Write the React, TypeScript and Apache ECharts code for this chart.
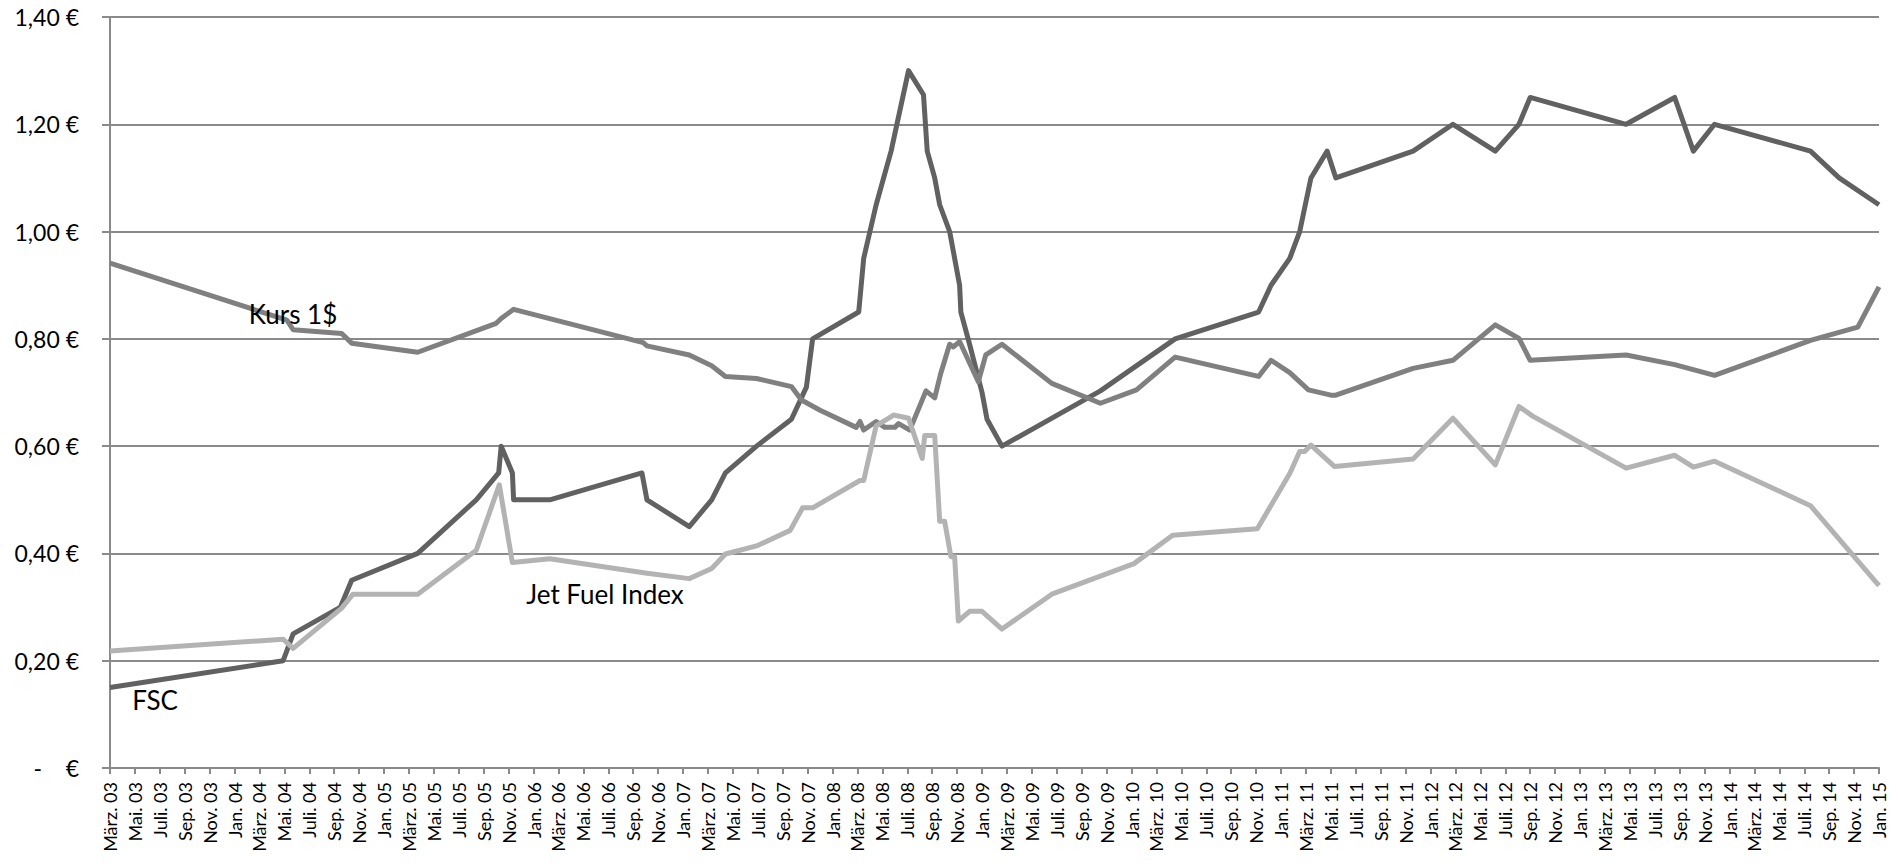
import React, { useEffect, useRef } from "react";
import * as echarts from "echarts";

// x = months after "März 03" (0) up to "Jan. 15" (142)
const tickLabels: string[] = [
  "März. 03", "Mai. 03", "Juli. 03", "Sep. 03", "Nov. 03",
  "Jan. 04", "März. 04", "Mai. 04", "Juli. 04", "Sep. 04", "Nov. 04",
  "Jan. 05", "März. 05", "Mai. 05", "Juli. 05", "Sep. 05", "Nov. 05",
  "Jan. 06", "März. 06", "Mai. 06", "Juli. 06", "Sep. 06", "Nov. 06",
  "Jan. 07", "März. 07", "Mai. 07", "Juli. 07", "Sep. 07", "Nov. 07",
  "Jan. 08", "März. 08", "Mai. 08", "Juli. 08", "Sep. 08", "Nov. 08",
  "Jan. 09", "März. 09", "Mai. 09", "Juli. 09", "Sep. 09", "Nov. 09",
  "Jan. 10", "März. 10", "Mai. 10", "Juli. 10", "Sep. 10", "Nov. 10",
  "Jan. 11", "März. 11", "Mai. 11", "Juli. 11", "Sep. 11", "Nov. 11",
  "Jan. 12", "März. 12", "Mai. 12", "Juli. 12", "Sep. 12", "Nov. 12",
  "Jan. 13", "März. 13", "Mai. 13", "Juli. 13", "Sep. 13", "Nov. 13",
  "Jan. 14", "März. 14", "Mai. 14", "Juli. 14", "Sep. 14", "Nov. 14",
  "Jan. 15",
];

const fsc: [number, number][] = [
  [0, 0.15], [13.9, 0.2], [14.7, 0.25], [18.5, 0.3], [19.4, 0.35], [24.7, 0.4],
  [29.4, 0.5], [31.2, 0.55], [31.4, 0.6], [32.3, 0.55], [32.4, 0.5], [35.3, 0.5],
  [42.7, 0.55], [43.1, 0.5], [46.5, 0.45], [48.3, 0.5], [49.4, 0.55], [51.9, 0.6],
  [54.7, 0.65], [55.5, 0.69], [55.9, 0.71], [56.4, 0.8], [60.1, 0.85], [60.5, 0.95],
  [61.5, 1.05], [62.7, 1.15], [64.1, 1.3], [65.3, 1.255], [65.6, 1.15], [66.2, 1.1],
  [66.6, 1.05], [67.4, 1.0], [68.2, 0.9], [68.3, 0.85], [69.0, 0.79], [70.0, 0.7],
  [70.4, 0.65], [71.6, 0.6], [79.5, 0.703], [85.5, 0.8], [92.2, 0.85], [93.2, 0.9],
  [94.7, 0.95], [95.5, 1.0], [96.4, 1.1], [97.7, 1.15], [98.4, 1.1], [104.6, 1.15],
  [107.8, 1.2], [111.2, 1.15], [113.1, 1.2], [114.0, 1.25], [121.7, 1.2], [125.6, 1.25],
  [127.1, 1.15], [128.8, 1.2], [136.5, 1.15], [138.8, 1.1], [142, 1.05],
];

const kurs: [number, number][] = [
  [0, 0.941], [14.2, 0.835], [14.7, 0.817], [18.6, 0.81], [19.4, 0.792], [24.7, 0.775],
  [31.0, 0.829], [31.4, 0.838], [32.4, 0.855], [42.8, 0.793], [43.1, 0.787], [46.5, 0.77],
  [48.3, 0.75], [49.4, 0.73], [51.9, 0.726], [54.7, 0.711], [55.5, 0.686], [57.0, 0.667],
  [59.9, 0.635], [60.2, 0.646], [60.5, 0.63], [61.5, 0.646], [62.2, 0.635], [63.0, 0.635],
  [63.3, 0.642], [64.2, 0.63], [65.5, 0.703], [66.2, 0.69], [66.7, 0.737], [67.4, 0.79],
  [67.7, 0.785], [68.2, 0.795], [69.7, 0.72], [70.3, 0.77], [71.6, 0.79], [75.6, 0.717],
  [79.5, 0.68], [82.4, 0.705], [85.5, 0.766], [92.2, 0.73], [93.2, 0.76], [94.7, 0.737],
  [96.2, 0.705], [98.0, 0.695], [98.4, 0.695], [104.6, 0.745], [107.8, 0.76], [111.2, 0.826],
  [113.1, 0.801], [114.0, 0.76], [121.7, 0.77], [125.6, 0.752], [128.8, 0.732], [136.5, 0.797],
  [140.3, 0.822], [142, 0.897],
];

const jetFuel: [number, number][] = [
  [0, 0.218], [13.9, 0.24], [14.7, 0.223], [18.6, 0.298], [19.5, 0.324], [24.7, 0.324],
  [29.4, 0.406], [31.25, 0.528], [32.3, 0.383], [35.3, 0.39], [43.1, 0.363], [46.5, 0.353],
  [48.3, 0.372], [49.4, 0.399], [51.9, 0.414], [54.6, 0.443], [55.6, 0.485], [56.4, 0.485],
  [60.2, 0.536], [60.5, 0.536], [61.5, 0.638], [62.9, 0.658], [64.1, 0.652], [65.2, 0.577],
  [65.4, 0.62], [66.2, 0.62], [66.6, 0.46], [67.0, 0.46], [67.5, 0.394], [67.8, 0.394],
  [68.1, 0.274], [69.0, 0.292], [70.0, 0.292], [71.6, 0.259], [75.6, 0.324], [82.2, 0.381],
  [85.3, 0.434], [92.1, 0.446], [94.7, 0.549], [95.5, 0.59], [95.9, 0.59], [96.4, 0.602],
  [98.3, 0.562], [104.6, 0.576], [107.8, 0.652], [111.2, 0.565], [113.1, 0.674], [114.2, 0.656],
  [121.7, 0.559], [125.6, 0.583], [127.1, 0.561], [128.8, 0.572], [136.5, 0.489], [142, 0.34],
];

const seriesNames = ["FSC", "Kurs 1$", "Jet Fuel Index"];
const seriesColors = ["#616161", "#808080", "#b3b3b3"];

const FONT = "Lato, 'Liberation Sans', sans-serif";
const GRID_COLOR = "#8a8a8a";

export default function App() {
  const ref = useRef<HTMLDivElement>(null);

  useEffect(() => {
    if (!ref.current) return;
    const chart = echarts.init(ref.current, undefined, { renderer: "svg" });
    const lineSeries = (name: string, data: [number, number][], color: string) => ({
      name,
      type: "line",
      data,
      showSymbol: false,
      symbol: "none",
      lineStyle: { color, width: 5, join: "round" },
      itemStyle: { color },
    });
    chart.setOption({
      animation: false,
      backgroundColor: "#ffffff",
      grid: { left: 110, right: 19, top: 17, bottom: 99, containLabel: false },
      xAxis: {
        type: "value",
        min: 0,
        max: 142,
        interval: 2,
        axisLine: { show: true, lineStyle: { color: GRID_COLOR, width: 2 } },
        axisTick: { show: true, length: 6, lineStyle: { color: GRID_COLOR, width: 2 } },
        splitLine: { show: false },
        axisLabel: {
          rotate: 90,
          margin: 14,
          fontFamily: FONT,
          fontSize: 18,
          color: "#000",
          showMinLabel: true,
          showMaxLabel: true,
          formatter: (v: number) => tickLabels[Math.round(v / 2)] ?? "",
        },
      },
      yAxis: {
        type: "value",
        min: 0,
        max: 1.4,
        interval: 0.2,
        axisLine: { show: true, lineStyle: { color: GRID_COLOR, width: 2 } },
        axisTick: { show: true, length: 8, lineStyle: { color: GRID_COLOR, width: 2 } },
        splitLine: { show: true, lineStyle: { color: GRID_COLOR, width: 2 } },
        axisLabel: {
          margin: 31,
          fontFamily: FONT,
          fontSize: 23,
          color: "#000",
          formatter: (v: number) =>
            Math.abs(v) < 1e-9
              ? "-\u00A0\u00A0\u00A0\u00A0€"
              : v.toFixed(2).replace(".", ",") + "\u00A0€",
        },
      },
      series: [
        lineSeries(seriesNames[0], fsc, seriesColors[0]),
        lineSeries(seriesNames[1], kurs, seriesColors[1]),
        lineSeries(seriesNames[2], jetFuel, seriesColors[2]),
      ],
      graphic: [
        {
          type: "text",
          x: 293,
          y: 314,
          z: 100,
          style: { text: seriesNames[1], fontFamily: FONT, fontSize: 26, fill: "#000", align: "center", verticalAlign: "middle" },
        },
        {
          type: "text",
          x: 155,
          y: 700,
          z: 100,
          style: { text: seriesNames[0], fontFamily: FONT, fontSize: 26, fill: "#000", align: "center", verticalAlign: "middle" },
        },
        {
          type: "text",
          x: 605,
          y: 594,
          z: 100,
          style: { text: seriesNames[2], fontFamily: FONT, fontSize: 26, fill: "#000", align: "center", verticalAlign: "middle" },
        },
      ],
    });
    return () => chart.dispose();
  }, []);

  return (
    <div
      ref={ref}
      style={{ position: "absolute", left: 0, top: 0, width: 1898, height: 867, background: "#fff" }}
    />
  );
}
